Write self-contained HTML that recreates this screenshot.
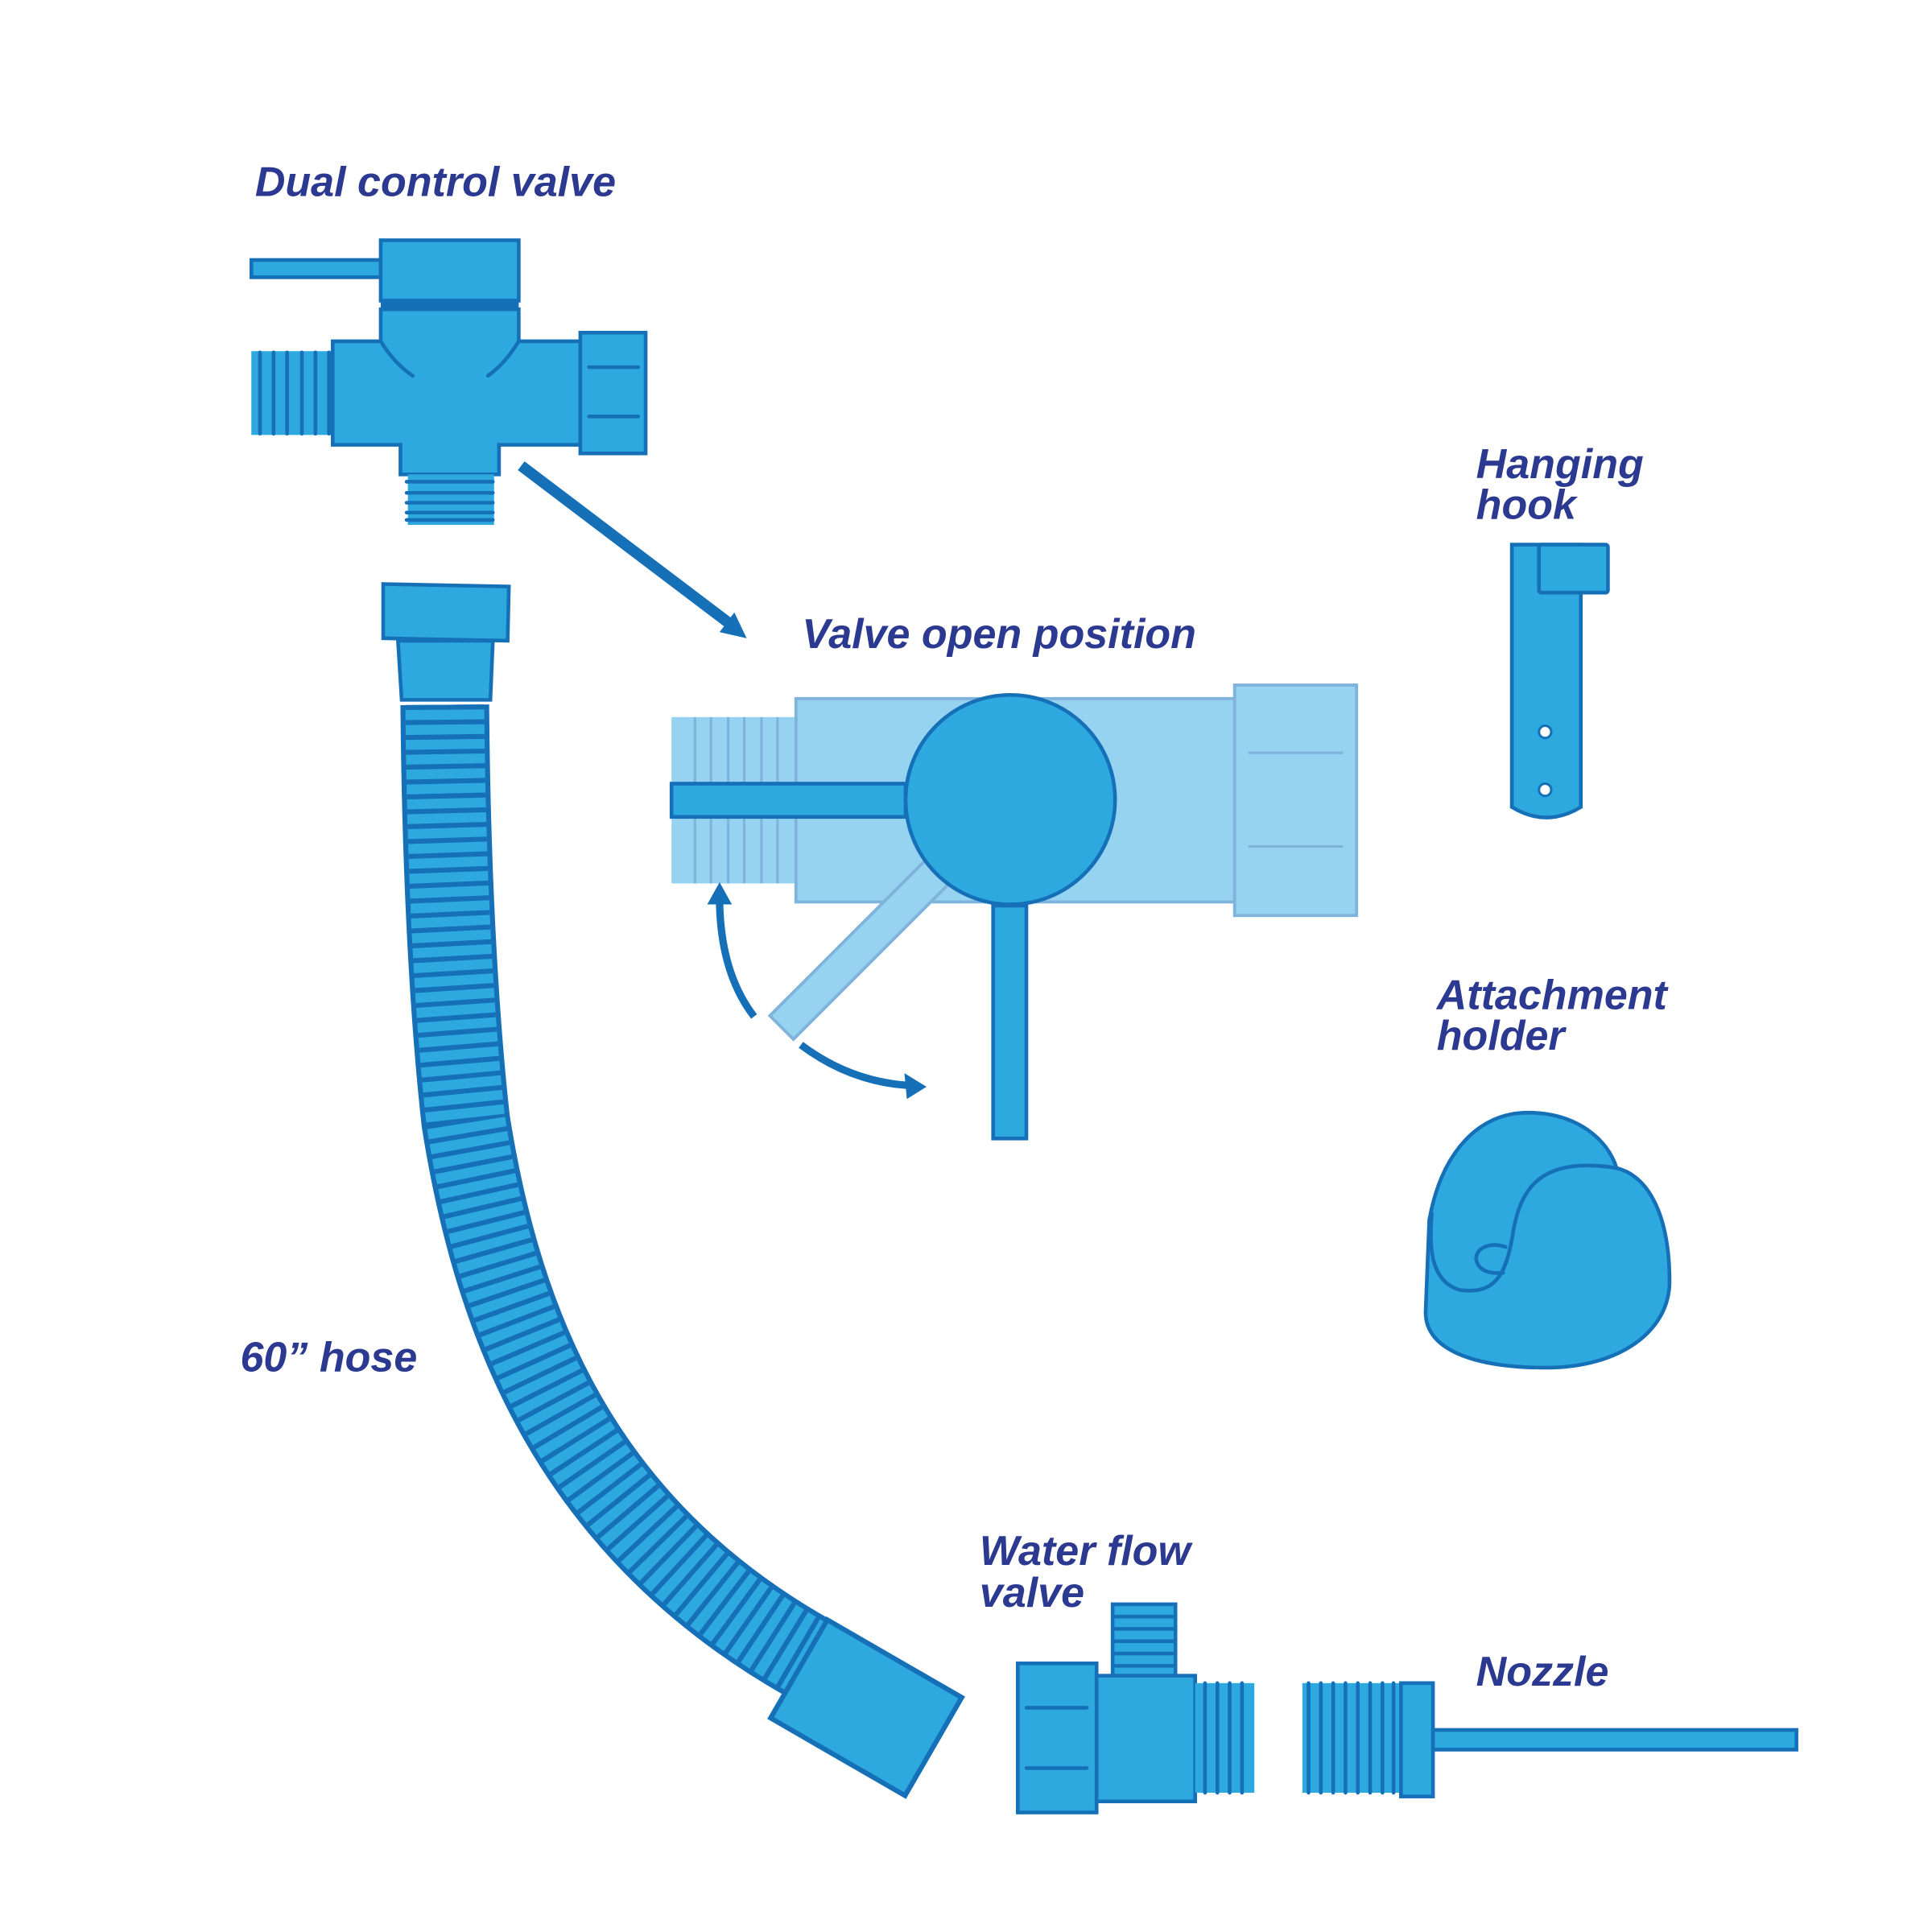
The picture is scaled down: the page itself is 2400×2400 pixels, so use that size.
<!DOCTYPE html>
<html><head><style>html,body{margin:0;padding:0;background:#fff}svg{display:block}</style></head>
<body>
<svg width="2400" height="2400" viewBox="0 0 1568 1568" xmlns="http://www.w3.org/2000/svg">
<defs><style>
.f{fill:#2EA9E0;stroke:#1570B8;stroke-width:3}
.l{fill:#96D3F0;stroke:#7FB3DC;stroke-width:2.5}
.ln{stroke:#1570B8;stroke-width:3;fill:none;stroke-linecap:round}
.t{font-family:"Liberation Sans",sans-serif;font-weight:bold;font-style:italic;font-size:34px;fill:#2B3990}
</style></defs>
<g id="dual">
<rect class="f" x="204" y="211" width="105" height="14"/>
<rect class="f" x="309" y="195" width="112" height="49"/>
<rect x="309" y="243" width="112" height="7" fill="#1570B8"/>
<rect x="204" y="285" width="66" height="68" fill="#2EA9E0"/>
<g class="ln"><path d="M211,286V352M222,286V352M233,286V352M245,286V352M256,286V352M267,286V352M276,286V352"/></g>
<path class="f" d="M309,251H421V277H471V361H405V385H325V361H270V277H309Z"/>
<path class="ln" d="M309,277Q320,295 335,305M421,277Q410,295 396,305"/>
<rect class="f" x="471" y="270" width="53" height="98"/>
<path class="ln" d="M478,298H518M478,338H518"/>
<rect x="331" y="385" width="70" height="41" fill="#2EA9E0"/>
<g class="ln"><path d="M330,391H400M330,400H400M330,408H400M330,416H400M330,422H400"/></g>
</g>
<line x1="423" y1="378" x2="592" y2="506" stroke="#1570B8" stroke-width="9"/>
<polygon points="606,518 584,513 596,497" fill="#1570B8"/>
<text class="t" x="207" y="159">Dual control valve</text>
<text class="t" x="651" y="526">Valve open position</text>
<text class="t" x="1198" y="388">Hanging</text>
<text class="t" x="1198" y="421">hook</text>
<text class="t" x="1166" y="819">Attachment</text>
<text class="t" x="1166" y="852">holder</text>
<text class="t" x="195" y="1113">60” hose</text>
<text class="t" x="795" y="1270">Water flow</text>
<text class="t" x="795" y="1304">valve</text>
<text class="t" x="1198" y="1368">Nozzle</text>
<!-- open valve -->
<rect x="545" y="582" width="101" height="135" fill="#96D3F0"/>
<g stroke="#7FB3DC" stroke-width="2"><path d="M564,582V717M577,582V717M591,582V717M604,582V717M618,582V717M631,582V717"/></g>
<rect class="l" x="646" y="567" width="357" height="165"/>
<rect class="l" x="1002" y="556" width="99" height="187"/>
<path stroke="#7FB3DC" stroke-width="2" d="M1013,611H1090M1013,687H1090"/>
<g transform="rotate(45 820 649)"><rect x="806" y="649" width="27" height="262" class="l"/></g>
<rect class="f" x="545" y="636" width="190" height="27"/>
<circle class="f" cx="820" cy="649" r="85"/>
<rect class="f" x="806" y="735" width="27" height="189"/>
<path d="M612,825Q585,790 584,732" stroke="#1570B8" stroke-width="6" fill="none"/>
<polygon points="584,716 574,734 594,734" fill="#1570B8"/>
<path d="M650,848Q690,878 738,881" stroke="#1570B8" stroke-width="6" fill="none"/>
<polygon points="752,882 734,871 736,892" fill="#1570B8"/>
<!-- hook -->
<path class="f" d="M1227,442H1283V655Q1255,672 1227,655Z"/>
<rect class="f" x="1249" y="442" width="56" height="39" rx="2"/>
<circle cx="1254" cy="594" r="5" fill="#fff" stroke="#1570B8" stroke-width="2"/>
<circle cx="1254" cy="641" r="5" fill="#fff" stroke="#1570B8" stroke-width="2"/>
<!-- holder -->
<path class="f" d="M1160,990C1170,935 1200,903 1240,903C1280,903 1305,925 1312,948C1340,955 1355,990 1355,1040C1355,1080 1315,1110 1255,1110C1195,1110 1157,1095 1157,1065Z"/>
<path class="ln" d="M1312,948C1250,938 1234,965 1228,1000C1222,1040 1210,1050 1185,1047C1160,1040 1160,1010 1162,985"/>
<path class="ln" d="M1222,1012C1210,1008 1198,1012 1198,1022C1200,1032 1210,1034 1220,1033"/>
<!-- hose -->
<path d="M361,572C362,700 368,820 378,910C405,1080 470,1240 655,1345" fill="none" stroke="#1570B8" stroke-width="72"/>
<path d="M361,572C362,700 368,820 378,910C405,1080 470,1240 655,1345" fill="none" stroke="#2EA9E0" stroke-width="64"/>
<path d="M361,572C362,700 368,820 378,910C405,1080 470,1240 655,1345" fill="none" stroke="#1570B8" stroke-width="64" stroke-dasharray="4 8"/>
<path class="f" d="M311,474L413,476L412,520L311,518Z"/>
<path class="f" d="M323,520H400L398,568H326Z"/>
<g transform="rotate(30 703 1386)"><rect class="f" x="640" y="1340" width="126" height="92" style="stroke-width:4"/></g>
<!-- water flow valve -->
<rect class="f" x="903" y="1302" width="51" height="74"/>
<path class="ln" d="M905,1312H952M905,1322H952M905,1332H952M905,1342H952M905,1352H952M905,1362H952"/>
<rect class="f" x="826" y="1350" width="64" height="121"/>
<path class="ln" d="M833,1386H882M833,1435H882"/>
<rect class="f" x="890" y="1360" width="80" height="102"/>
<rect x="970" y="1366" width="48" height="89" fill="#2EA9E0"/>
<path class="ln" d="M978,1366V1455M988,1366V1455M998,1366V1455M1008,1366V1455"/>
<!-- nozzle -->
<rect x="1057" y="1366" width="80" height="89" fill="#2EA9E0"/>
<path class="ln" d="M1062,1366V1455M1072,1366V1455M1082,1366V1455M1092,1366V1455M1102,1366V1455M1112,1366V1455M1122,1366V1455M1131,1366V1455"/>
<rect class="f" x="1137" y="1366" width="26" height="92"/>
<rect class="f" x="1163" y="1404" width="295" height="16"/>
</svg>
</body></html>
